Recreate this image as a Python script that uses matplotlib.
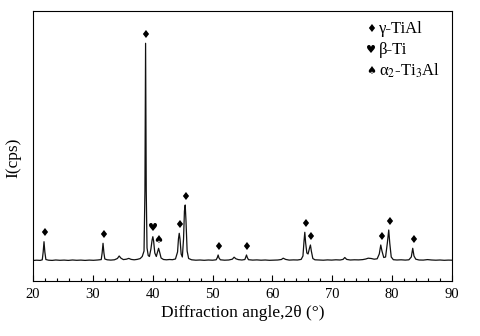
import numpy as np
import matplotlib
matplotlib.use("Agg")
import matplotlib.pyplot as plt
from matplotlib.ticker import MultipleLocator

plt.rcParams["font.family"] = ["Liberation Serif", "DejaVu Serif"]
plt.rcParams["mathtext.fontset"] = "stix"

# XRD trace, 2theta (deg) vs counts
two_theta = [
    20.0, 20.6, 21.2, 21.55, 21.7, 21.84, 21.98, 22.15, 22.6, 23.2,
    23.8, 24.5, 25.2, 25.9, 26.6, 27.3, 28.0, 28.7, 29.4, 30.1,
    30.8, 31.4, 31.55, 31.7, 31.85, 32.0, 32.4, 33.0, 33.6, 34.1,
    34.4, 34.7, 35.1, 35.6, 36.0, 36.4, 36.9, 37.4, 37.9, 38.25,
    38.55, 38.7, 38.81, 38.92, 39.05, 39.25, 39.45, 39.7, 39.9, 40.02,
    40.15, 40.35, 40.6, 40.8, 40.98, 41.15, 41.4, 41.8, 42.3, 42.8,
    43.3, 43.8, 44.15, 44.3, 44.43, 44.56, 44.75, 44.95, 45.15, 45.3,
    45.43, 45.56, 45.75, 46.0, 46.5, 47.2, 47.9, 48.6, 49.3, 50.0,
    50.6, 50.8, 50.93, 51.06, 51.3, 52.0, 52.7, 53.3, 53.6, 53.9,
    54.3, 54.9, 55.4, 55.55, 55.67, 55.8, 56.0, 56.7, 57.4, 58.1,
    58.8, 59.5, 60.2, 60.9, 61.5, 61.8, 62.2, 62.8, 63.5, 64.2,
    64.8, 65.1, 65.28, 65.41, 65.55, 65.75, 65.95, 66.2, 66.35, 66.5,
    66.75, 67.1, 67.8, 68.5, 69.2, 69.9, 70.6, 71.3, 71.8, 72.09,
    72.4, 73.0, 73.7, 74.4, 75.1, 75.6, 76.0, 76.5, 77.0, 77.5,
    77.85, 78.1, 78.3, 78.6, 78.9, 79.2, 79.43, 79.6, 79.85, 80.2,
    80.8, 81.5, 82.2, 82.8, 83.2, 83.44, 83.65, 83.95, 84.5, 85.2,
    85.9, 86.6, 87.3, 88.0, 88.7, 89.4, 90.0,
]
intensity = [
    205, 208, 206, 212, 290, 393, 290, 215, 208, 206,
    210, 207, 209, 206, 210, 207, 209, 206, 209, 207,
    210, 214, 280, 377, 280, 220, 212, 209, 212, 225,
    250, 228, 214, 218, 226, 216, 212, 216, 224, 245,
    300, 900, 2377, 900, 330, 255, 245, 320, 410, 443,
    400, 280, 245, 290, 327, 290, 230, 215, 212, 215,
    213, 220, 290, 420, 477, 420, 270, 240, 420, 700,
    760, 600, 300, 225, 212, 208, 210, 207, 210, 208,
    212, 235, 260, 232, 212, 208, 210, 218, 238, 222,
    214, 210, 215, 240, 260, 235, 213, 209, 211, 208,
    210, 207, 209, 210, 215, 228, 216, 209, 211, 210,
    216, 250, 400, 487, 380, 280, 270, 330, 360, 300,
    225, 212, 210, 208, 211, 209, 212, 210, 216, 235,
    216, 210, 212, 211, 214, 220, 228, 225, 218, 222,
    270, 360, 300, 235, 240, 380, 510, 380, 240, 213,
    210, 212, 209, 212, 240, 327, 250, 218, 210, 209,
    214, 210, 208, 210, 207, 209, 208,
]

# indexed reflections for each phase
gamma_peaks = [21.84, 31.7, 38.81, 44.43, 45.43, 50.93, 55.67, 65.41, 66.35, 78.1, 79.43, 83.44]
beta_peaks = [40.02]
alpha2_peaks = [40.98]

phases = [
    ("\u2666", gamma_peaks, "\u03b3-TiAl"),
    ("\u2665", beta_peaks, "\u03b2-Ti"),
    ("\u2660", alpha2_peaks, "\u03b1$_2$-Ti$_3$Al"),
]

fig = plt.figure(figsize=(4.81, 3.36), dpi=100)
ax = fig.add_axes([0.0686, 0.1637, 0.8711, 0.8036])

ax.plot(two_theta, intensity, color="#111111", lw=0.9)

for sym, peaks, _ in phases:
    for p in peaks:
        h = np.interp(p, two_theta, intensity)
        ax.annotate(sym, (p, h), xytext=(0, 6), textcoords="offset points",
                    ha="center", va="center", fontsize=8, family="DejaVu Sans")

# phase key in the upper right corner
for i, (sym, _, name) in enumerate(phases):
    y = 0.933 - i * 0.078
    ax.text(0.807, y, sym, transform=ax.transAxes, ha="center", va="center",
            fontsize=8, family="DejaVu Sans")
    ax.text(0.826, y, name, transform=ax.transAxes, ha="left", va="center",
            fontsize=12)

ax.set_xlim(20, 90)
ax.set_ylim(0, 2700)
ax.xaxis.set_major_locator(MultipleLocator(10))
ax.xaxis.set_minor_locator(MultipleLocator(2))
ax.tick_params(axis="x", which="major", direction="in", length=4.5, width=0.8,
               labelsize=10.5, pad=5)
ax.tick_params(axis="x", which="minor", direction="in", length=2.2, width=0.8)
ax.set_yticks([])
for s in ax.spines.values():
    s.set_linewidth(0.8)

ax.set_xlabel("Diffraction angle,2\u03b8 (\u00b0)", fontsize=12.5, labelpad=3)
ax.set_ylabel("I(cps)", fontsize=12.5)
ax.yaxis.set_label_coords(-0.029, 0.456)

fig.savefig("out.png", dpi=100)
